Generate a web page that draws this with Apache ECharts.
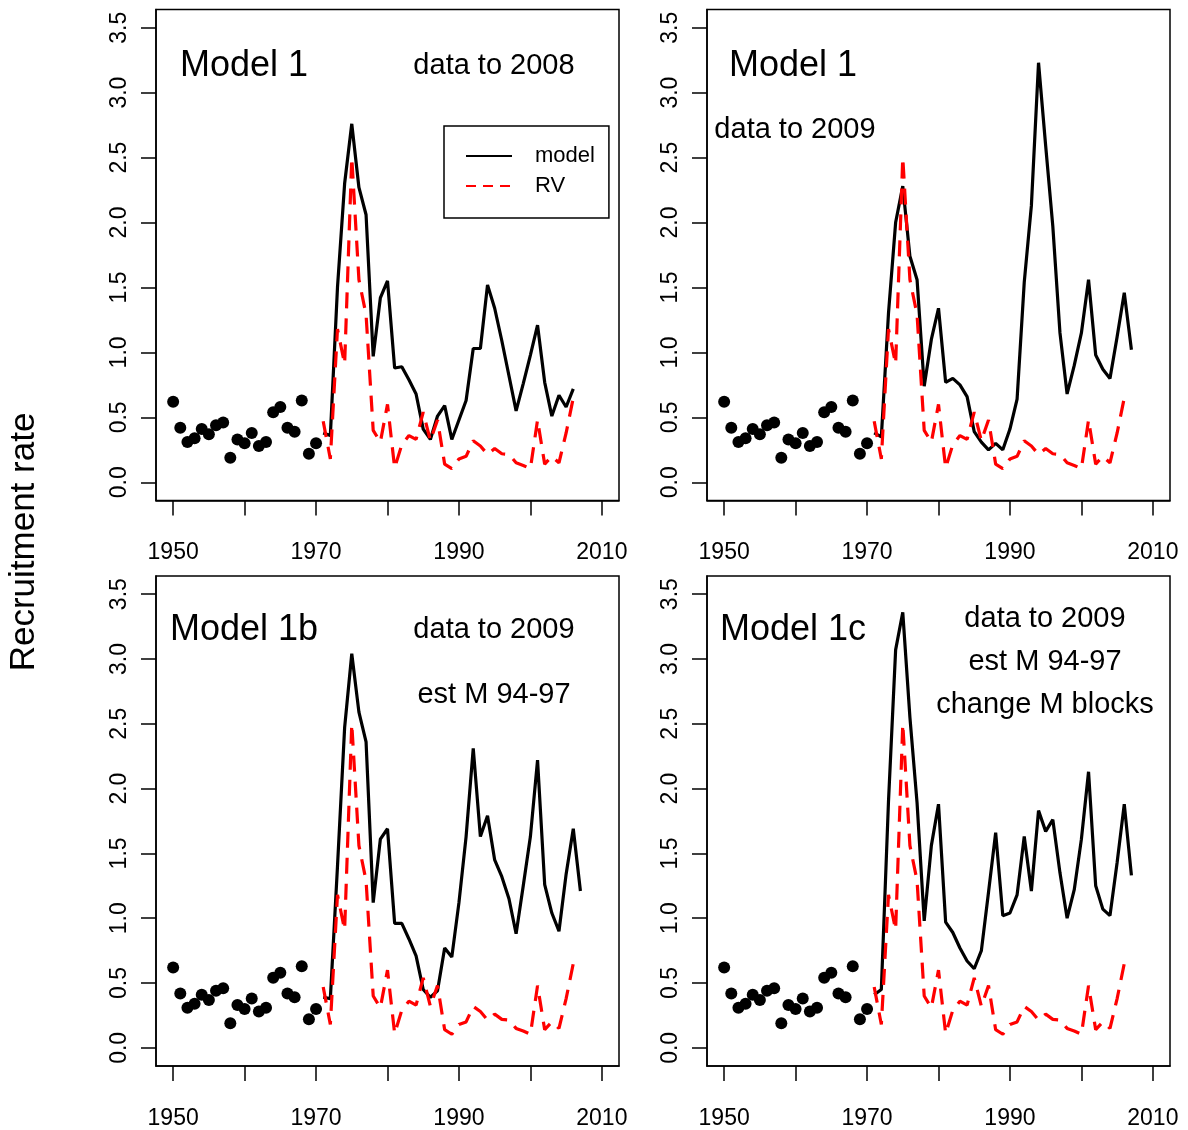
<!DOCTYPE html>
<html>
<head>
<meta charset="utf-8">
<script src="https://cdn.jsdelivr.net/npm/echarts@6/dist/echarts.min.js"></script>
<style>
  html, body { margin: 0; padding: 0; background: #fff; }
  #chart { width: 1188px; height: 1130px; }
</style>
</head>
<body>
<div id="chart"></div>
<script>
// observed points, 1950-1970
var obsYears = [1950, 1951, 1952, 1953, 1954, 1955, 1956, 1957, 1958, 1959, 1960,
  1961, 1962, 1963, 1964, 1965, 1966, 1967, 1968, 1969, 1970];
var obsValues = [0.62, 0.42, 0.31, 0.34, 0.41, 0.37, 0.44, 0.46, 0.19, 0.33, 0.30,
  0.38, 0.28, 0.31, 0.54, 0.58, 0.42, 0.39, 0.63, 0.22, 0.30];

// model years 1971-2007
var modelYears = [1971, 1972, 1973, 1974, 1975, 1976, 1977, 1978, 1979, 1980,
  1981, 1982, 1983, 1984, 1985, 1986, 1987, 1988, 1989, 1990,
  1991, 1992, 1993, 1994, 1995, 1996, 1997, 1998, 1999, 2000,
  2001, 2002, 2003, 2004, 2005, 2006, 2007];

// Model 1, data to 2008 (ends 2006)
var model1a = [0.38, 0.36, 1.50, 2.30, 2.76, 2.27, 2.06, 0.97, 1.42, 1.55,
  0.88, 0.89, 0.79, 0.68, 0.41, 0.33, 0.51, 0.59, 0.33, 0.48,
  0.63, 1.03, 1.03, 1.52, 1.34, 1.09, 0.82, 0.55, 0.76, 0.98,
  1.21, 0.77, 0.51, 0.67, 0.58, 0.72];
// Model 1, data to 2009
var model1b = [0.38, 0.35, 1.30, 2.00, 2.28, 1.74, 1.56, 0.74, 1.10, 1.34,
  0.77, 0.80, 0.75, 0.66, 0.39, 0.31, 0.25, 0.30, 0.25, 0.41,
  0.64, 1.54, 2.13, 3.23, 2.59, 1.97, 1.15, 0.68, 0.90, 1.15,
  1.56, 0.98, 0.87, 0.80, 1.12, 1.46, 1.02];
// Model 1b
var model1bEst = [0.39, 0.38, 1.40, 2.47, 3.04, 2.59, 2.36, 1.12, 1.61, 1.69,
  0.96, 0.96, 0.84, 0.71, 0.45, 0.39, 0.44, 0.77, 0.70, 1.12,
  1.63, 2.31, 1.63, 1.79, 1.45, 1.32, 1.15, 0.88, 1.25, 1.63,
  2.22, 1.26, 1.04, 0.90, 1.34, 1.69, 1.21];
// Model 1c
var model1c = [0.41, 0.45, 1.90, 3.07, 3.36, 2.55, 1.89, 0.98, 1.56, 1.88,
  0.97, 0.89, 0.77, 0.67, 0.61, 0.75, 1.20, 1.66, 1.02, 1.04,
  1.18, 1.63, 1.21, 1.83, 1.67, 1.76, 1.35, 1.00, 1.22, 1.61,
  2.13, 1.25, 1.07, 1.02, 1.43, 1.88, 1.33];

// RV series, 1971-2006
var rvValues = [0.47, 0.18, 1.18, 0.91, 2.50, 1.56, 1.29, 0.40, 0.31, 0.60,
  0.11, 0.29, 0.36, 0.33, 0.54, 0.32, 0.48, 0.14, 0.105, 0.18,
  0.20, 0.32, 0.28, 0.215, 0.26, 0.22, 0.215, 0.15, 0.13, 0.105,
  0.48, 0.14, 0.20, 0.15, 0.38, 0.65];

var xTicks = [1950, 1960, 1970, 1980, 1990, 2000, 2010];
var xLabels = [1950, 1970, 1990, 2010];
var yTicks = [0, 0.5, 1, 1.5, 2, 2.5, 3, 3.5];

var panelModels = [model1a, model1b, model1bEst, model1c];
var panelTexts = [
  [["Model 1", 36, 180, 66, "left"], ["data to 2008", 29, 494, 66, "center"]],
  [["Model 1", 36, 729, 66, "left"], ["data to 2009", 29, 795, 130, "center"]],
  [["Model 1b", 36, 170, 630, "left"], ["data to 2009", 29, 494, 630, "center"],
   ["est M 94-97", 29, 494, 695, "center"]],
  [["Model 1c", 36, 720, 630, "left"], ["data to 2009", 29, 1045, 619, "center"],
   ["est M 94-97", 29, 1045, 662, "center"], ["change M blocks", 29, 1045, 705, "center"]]
];

var FONT = '"Liberation Sans", Arial, sans-serif';

function pairs(xs, ys) {
  return ys.map(function (v, i) { return [xs[i], v]; });
}

var gridPos = [
  { left: 156, top: 9.5, width: 463, height: 491 },
  { left: 707, top: 9.5, width: 463, height: 491 },
  { left: 156, top: 576, width: 463, height: 491 },
  { left: 707, top: 576, width: 463, height: 491 }
];

var grids = [], xAxes = [], yAxes = [], series = [], graphics = [];

gridPos.forEach(function (g, i) {
  grids.push({
    left: g.left, top: g.top, width: g.width, height: g.height,
    show: true, borderColor: '#000', borderWidth: 1.5, containLabel: false
  });
  xAxes.push({
    type: 'value', gridIndex: i, min: 1947.6, max: 2012.4,
    splitLine: { show: false },
    axisLine: { show: true, onZero: false, lineStyle: { color: '#000', width: 1.5 } },
    axisTick: { show: true, customValues: xTicks, length: 15, lineStyle: { color: '#000', width: 1.5 } },
    axisLabel: {
      customValues: xLabels, margin: 41, fontSize: 23, color: '#000', fontFamily: FONT,
      formatter: function (v) { return String(v); }
    }
  });
  yAxes.push({
    type: 'value', gridIndex: i, min: -0.14, max: 3.64,
    splitLine: { show: false },
    axisLine: { show: true, onZero: false, lineStyle: { color: '#000', width: 1.5 } },
    axisTick: { show: true, customValues: yTicks, length: 15, lineStyle: { color: '#000', width: 1.5 } },
    axisLabel: {
      customValues: yTicks, rotate: 90, margin: 25, fontSize: 23, color: '#000', fontFamily: FONT,
      formatter: function (v) { return v.toFixed(1); }
    }
  });
  series.push({
    name: 'obs', type: 'scatter', xAxisIndex: i, yAxisIndex: i,
    data: pairs(obsYears, obsValues), symbol: 'circle', symbolSize: 12,
    itemStyle: { color: '#000', opacity: 1 }, silent: true
  });
  series.push({
    name: 'model', type: 'line', xAxisIndex: i, yAxisIndex: i,
    data: pairs(modelYears, panelModels[i]), symbol: 'none', silent: true,
    lineStyle: { color: '#000', width: 3.2 }, itemStyle: { color: '#000' }
  });
  series.push({
    name: 'RV', type: 'line', xAxisIndex: i, yAxisIndex: i,
    data: pairs(modelYears, rvValues), symbol: 'none', silent: true,
    lineStyle: { color: '#ff0000', width: 3.2, type: [16, 10] }, itemStyle: { color: '#ff0000' }
  });
  panelTexts[i].forEach(function (t) {
    graphics.push({
      type: 'text', x: t[2], y: t[3],
      style: { text: t[0], fontSize: t[1], fontFamily: FONT, fill: '#000',
        textAlign: t[4], textVerticalAlign: 'middle' }
    });
  });
});

graphics.push({
  type: 'text', x: 24, y: 542, rotation: Math.PI / 2,
  style: { text: 'Recruitment rate', fontSize: 35, fontFamily: FONT, fill: '#000',
    textAlign: 'center', textVerticalAlign: 'middle' }
});

var myChart = echarts.init(document.getElementById('chart'));
myChart.setOption({
  animation: false,
  backgroundColor: '#fff',
  grid: grids,
  xAxis: xAxes,
  yAxis: yAxes,
  series: series,
  graphic: graphics,
  legend: {
    data: [
      { name: 'model' },
      { name: 'RV', lineStyle: { type: [10, 7] } }
    ],
    orient: 'vertical',
    left: 444, top: 126,
    padding: [19, 14, 21, 21],
    itemWidth: 46, itemHeight: 14, itemGap: 8,
    borderColor: '#000', borderWidth: 1.5,
    selectedMode: false,
    itemStyle: { color: 'transparent', borderWidth: 0 },
    lineStyle: { width: 2 },
    textStyle: { fontSize: 22, fontFamily: FONT, color: '#000', padding: [0, 0, 0, 18] }
  }
});
</script>
</body>
</html>
